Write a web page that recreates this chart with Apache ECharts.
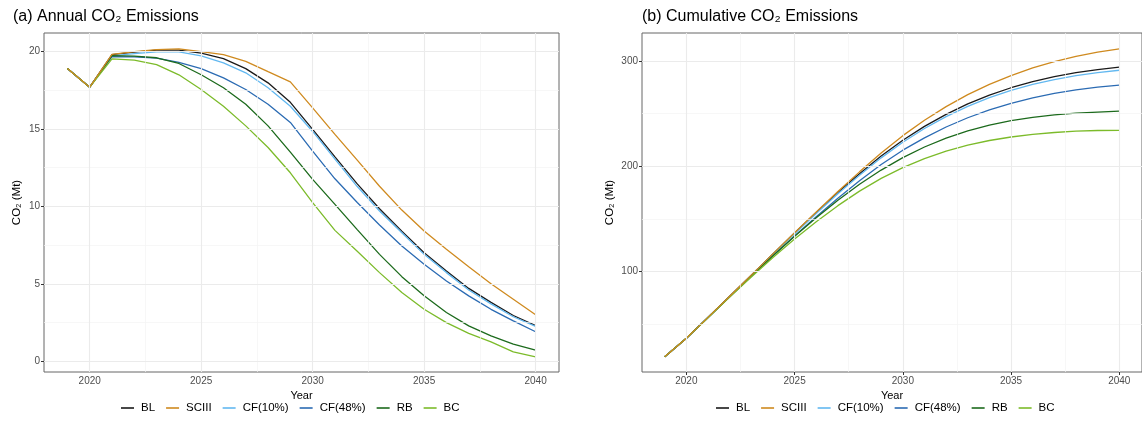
<!DOCTYPE html>
<html><head><meta charset="utf-8">
<script src="https://cdn.jsdelivr.net/npm/echarts@6/dist/echarts.min.js"></script>
<style>html,body{margin:0;padding:0;background:#fff}#c{width:1142px;height:433px}</style>
</head><body><div id="c"></div>
<script>
const years = [2019,2020,2021,2022,2023,2024,2025,2026,2027,2028,2029,2030,2031,2032,2033,2034,2035,2036,2037,2038,2039,2040];
const seriesNames = ['BL','SCIII','CF(10%)','CF(48%)','RB','BC'];
const seriesColors = ['#1a1a1a','#cf8a1f','#62b8f0','#2b6bb3','#1c6a1c','#7cbb2a'];

// (a) Annual CO2 emissions (Mt)
const annualBL    = [18.9,17.7,19.8,19.97,20.1,20.1,19.9,19.55,18.9,17.98,16.72,14.97,13.2,11.45,9.85,8.4,7.0,5.83,4.7,3.8,2.95,2.3];
const annualSCIII = [18.9,17.7,19.82,20.0,20.12,20.18,20.0,19.8,19.37,18.7,18.04,16.36,14.65,12.99,11.3,9.76,8.41,7.23,6.1,5.0,4.0,3.0];
const annualCF10  = [18.9,17.7,19.72,19.87,19.98,19.98,19.72,19.27,18.63,17.66,16.47,14.84,13.05,11.28,9.7,8.3,6.9,5.72,4.6,3.7,2.87,2.25];
const annualCF48  = [18.9,17.7,19.68,19.66,19.58,19.3,18.9,18.3,17.55,16.6,15.42,13.57,11.78,10.25,8.8,7.44,6.26,5.18,4.22,3.35,2.6,1.9];
const annualRB    = [18.9,17.7,19.74,19.7,19.6,19.23,18.5,17.66,16.6,15.2,13.5,11.74,10.13,8.5,6.9,5.46,4.22,3.14,2.28,1.63,1.1,0.72];
const annualBC    = [18.9,17.7,19.53,19.45,19.16,18.5,17.55,16.47,15.2,13.8,12.17,10.24,8.45,7.1,5.72,4.43,3.35,2.49,1.8,1.25,0.6,0.28];

// (b) Cumulative CO2 emissions (Mt)
const cumBL    = [18.9,36.6,56.4,76.4,96.5,116.6,136.5,156.0,174.9,192.9,209.6,224.6,237.8,249.2,259.1,267.5,274.5,280.3,285.0,288.8,291.8,294.1];
const cumSCIII = [18.9,36.6,56.4,76.4,96.5,116.7,136.7,156.5,175.9,194.6,212.6,229.0,243.6,256.6,267.9,277.7,286.1,293.3,299.4,304.4,308.4,311.4];
const cumCF10  = [18.9,36.6,56.3,76.2,96.2,116.2,135.9,155.1,173.8,191.4,207.9,222.7,235.8,247.1,256.8,265.1,272.0,277.7,282.3,286.0,288.9,291.1];
const cumCF48  = [18.9,36.6,56.3,75.9,95.5,114.8,133.7,152.0,169.6,186.2,201.6,215.2,226.9,237.2,246.0,253.4,259.7,264.9,269.1,272.4,275.0,276.9];
const cumRB    = [18.9,36.6,56.3,76.0,95.6,114.9,133.4,151.0,167.6,182.8,196.3,208.1,218.2,226.7,233.6,239.1,243.3,246.4,248.7,250.3,251.4,252.2];
const cumBC    = [18.9,36.6,56.1,75.6,94.7,113.2,130.8,147.3,162.5,176.3,188.4,198.7,207.1,214.2,219.9,224.4,227.7,230.2,232.0,233.3,233.9,234.1];

const xTicks = [2020,2025,2030,2035,2040];
const xMinor = [2022.5,2027.5,2032.5,2037.5];
const yTicksA = [0,5,10,15,20];
const yMinorA = [2.5,7.5,12.5,17.5];
const yTicksB = [100,200,300];
const yMinorB = [50,150,250];

const FONT = '"Liberation Sans", Arial, Helvetica, sans-serif';
const annual = [annualBL, annualSCIII, annualCF10, annualCF48, annualRB, annualBC];
const cumul  = [cumBL, cumSCIII, cumCF10, cumCF48, cumRB, cumBC];

function pairs(v){ return years.map((y,i)=>[y, v[i]]); }

function gridLines(idx, xs, xm, ys, ym){
  const maj = {color:'#ebebeb', width:1.1, type:'solid'};
  const min = {color:'#f3f3f3', width:0.7, type:'solid'};
  return {
    type:'line', xAxisIndex:idx, yAxisIndex:idx, data:[], silent:true, z:1,
    markLine:{
      silent:true, symbol:['none','none'], animation:false, label:{show:false},
      emphasis:{disabled:true},
      data:[
        ...xm.map(v=>({xAxis:v, lineStyle:min})),
        ...ym.map(v=>({yAxis:v, lineStyle:min})),
        ...xs.map(v=>({xAxis:v, lineStyle:maj})),
        ...ys.map(v=>({yAxis:v, lineStyle:maj}))
      ]
    }
  };
}

function xAxisCfg(gi){
  return {
    type:'value', gridIndex:gi, min:2017.95, max:2041.05,
    name:'Year', nameLocation:'middle', nameGap:18,
    nameTextStyle:{color:'#000', fontSize:11, fontFamily:FONT},
    axisLine:{show:false},
    axisTick:{show:true, customValues:xTicks, length:3, lineStyle:{color:'#333', width:1}},
    axisLabel:{customValues:xTicks, formatter:v=>String(v), color:'#4d4d4d', fontSize:10, margin:4, fontFamily:FONT},
    splitLine:{show:false}
  };
}
function yAxisCfg(gi, mn, mx, ticks, gap){
  return {
    type:'value', gridIndex:gi, min:mn, max:mx,
    name:'CO₂ (Mt)', nameLocation:'middle', nameGap:gap, nameRotate:90,
    nameTextStyle:{color:'#000', fontSize:11.5, fontFamily:FONT},
    axisLine:{show:false},
    axisTick:{show:true, customValues:ticks, length:3, lineStyle:{color:'#333', width:1}},
    axisLabel:{customValues:ticks, formatter:v=>String(v), color:'#4d4d4d', fontSize:10, margin:4, fontFamily:FONT},
    splitLine:{show:false}
  };
}

const order = [0,2,3,4,5,1];
const series = [gridLines(0, xTicks, xMinor, yTicksA, yMinorA), gridLines(1, xTicks, xMinor, yTicksB, yMinorB)];
[[annual,0],[cumul,1]].forEach(([arr, gi])=>{
  order.forEach(k=>{
    series.push({
      name: seriesNames[k], type:'line', xAxisIndex:gi, yAxisIndex:gi,
      data: pairs(arr[k]), showSymbol:false, symbol:'none', z: 3 + (k===1?1:0),
      lineStyle:{color:seriesColors[k], width:1.3}, itemStyle:{color:seriesColors[k]},
      emphasis:{disabled:true}, animation:false
    });
  });
});

function legendCfg(left){
  return {
    data: seriesNames, left:left, top:397, icon:'rect', itemWidth:13, itemHeight:1.6, itemGap:11,
    textStyle:{fontSize:11.5, color:'#000', fontFamily:FONT, padding:[0,0,0,2]},
    selectedMode:false
  };
}

const chart = echarts.init(document.getElementById('c'), null, {renderer:'canvas'});
chart.setOption({
  backgroundColor:'#fff',
  animation:false,
  title:[
    {text:'(a) Annual CO₂ Emissions', left:13, top:9, padding:0, textStyle:{fontSize:16, fontWeight:'normal', color:'#000', fontFamily:FONT}},
    {text:'(b) Cumulative CO₂ Emissions', left:642, top:9, padding:0, textStyle:{fontSize:16, fontWeight:'normal', color:'#000', fontFamily:FONT}}
  ],
  legend:[legendCfg(116), legendCfg(711)],
  grid:[
    {left:44, right:583, top:33, bottom:61, show:true, borderColor:'#666', borderWidth:1, backgroundColor:'transparent'},
    {left:642, right:-10, top:33, bottom:61, show:true, borderColor:'#666', borderWidth:1, backgroundColor:'transparent'}
  ],
  xAxis:[xAxisCfg(0), xAxisCfg(1)],
  yAxis:[yAxisCfg(0, -0.7, 21.2, yTicksA, 21), yAxisCfg(1, 4.5, 326.5, yTicksB, 26)],
  series: series
});
</script>
</body></html>
